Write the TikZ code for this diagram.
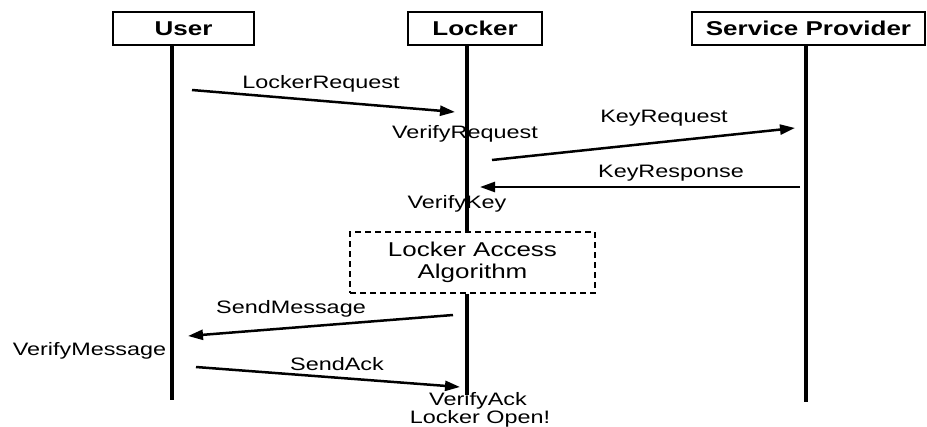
\documentclass[tikz,border=0pt]{standalone}
\usepackage{fontspec}
\setmainfont{Liberation Sans}[FakeStretch=1.3]
\usetikzlibrary{arrows.meta}
\tikzset{
  actor/.style={draw,line width=1.8pt,minimum height=33pt,inner sep=0pt,
    font=\fontsize{20}{24}\selectfont\bfseries},
  life/.style={line width=4pt},
  msg/.style={line width=2.5pt,-{Triangle[length=15pt,width=10pt]}},
  lbl/.style={anchor=base,inner sep=0pt,font=\fontsize{18}{22}\selectfont},
  algbox/.style={draw,line width=1.5pt,dash pattern=on 6pt off 4pt,
    minimum width=245pt,minimum height=61pt,inner sep=0pt,align=center,
    font=\fontsize{20}{22}\selectfont}
}
\begin{document}
\begin{tikzpicture}[x=1pt,y=-1pt]
\useasboundingbox (0,0) rectangle (927,426);
% actors
\node[actor,minimum width=141pt] (user) at (183.5,28.5) {User};
\node[actor,minimum width=134pt] (locker) at (475,28.5) {Locker};
\node[actor,minimum width=233pt] (provider) at (808.5,28.5) {Service Provider};
\node[algbox] (alg) at (472.5,262.5) {Locker Access\\Algorithm};
% lifeline ends
\coordinate (u0) at (172,45);  \coordinate (u1) at (172,400);
\coordinate (k0) at (467,46);  \coordinate (k1) at (467,395);
\coordinate (p0) at (806,45);  \coordinate (p1) at (806,402);
% message ends
\coordinate (req0) at (192,90);  \coordinate (req1) at (455,112);
\coordinate (key0) at (492,160); \coordinate (key1) at (795,128);
\coordinate (res0) at (800,187); \coordinate (res1) at (480,187);
\coordinate (snd0) at (453,315); \coordinate (snd1) at (188,336);
\coordinate (ack0) at (196,367); \coordinate (ack1) at (460,387);
% texts
\node[lbl] (treq) at (321,88) {LockerRequest};
\node[lbl] (tvreq) at (465,138) {VerifyRequest};
\node[lbl] (tkey) at (664,122) {KeyRequest};
\node[lbl] (tres) at (671,177) {KeyResponse};
\node[lbl] (tvkey) at (457,208) {VerifyKey};
\node[lbl] (tsnd) at (291,313) {SendMessage};
\node[lbl] (tvmsg) at (89.5,355) {VerifyMessage};
\node[lbl] (tack) at (337,370) {SendAck};
\node[lbl] (tvack) at (478,405) {VerifyAck};
\node[lbl] (topen) at (480,423) {Locker Open!};
% lifelines
\draw[life] (u0) -- (u1);
\draw[life] (k0) -- (alg.north -| k0);
\draw[life] (alg.south -| k0) -- (k1);
\draw[life] (p0) -- (p1);
% messages
\draw[msg] (req0) -- (req1);
\draw[msg] (key0) -- (key1);
\draw[msg] (res0) -- (res1);
\draw[msg] (snd0) -- (snd1);
\draw[msg] (ack0) -- (ack1);
\end{tikzpicture}
\end{document}
